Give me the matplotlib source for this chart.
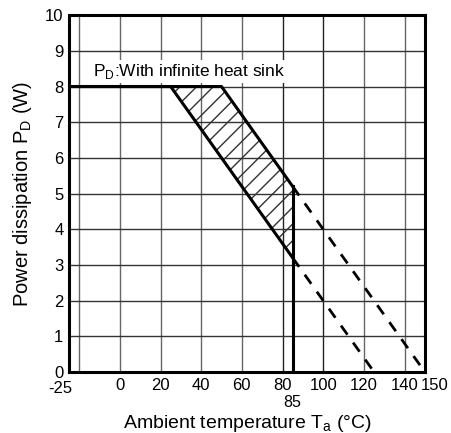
import numpy as np
import matplotlib
matplotlib.use("Agg")
import matplotlib.pyplot as plt
import matplotlib.transforms as mtransforms

plt.rcParams['font.family'] = ['Liberation Sans', 'DejaVu Sans']
plt.rcParams['axes.unicode_minus'] = False

# derating curves (Ta in degC, PD in W)
upper_ta = [-25, 50, 85]
upper_pd = [8, 8, 5.2]
lower_ta = [-25, 25, 85]
lower_pd = [8, 8, 3.2]
upper_ext_ta = [85, 150]
upper_ext_pd = [5.2, 0]
lower_ext_ta = [85, 125]
lower_ext_pd = [3.2, 0]
ta_max = 85

xticks = [-25, 0, 20, 40, 60, 80, 100, 120, 140, 150]
xgrid = [-20, 0, 20, 40, 60, 80, 100, 120, 140]
yticks = list(range(0, 11))

fig = plt.figure(figsize=(4.51, 4.33), dpi=100)
ax = fig.add_axes([0.153, 0.141, 0.789, 0.824])

for g in xgrid:
    c = '#222222' if g in (80, 100) else '#666666'
    ax.axvline(g, color=c, lw=1.0, zorder=1)
for g in yticks[1:-1]:
    ax.axhline(g, color='#333333', lw=1.0, zorder=1)

# hatched area between the two curves
hx = np.array([25, 50, 85])
top = np.interp(hx, upper_ta, upper_pd)
bot = np.interp(hx, lower_ta, lower_pd)
ax.fill_between(hx, bot, top, facecolor='none', edgecolor='#333333',
                hatch='//', linewidth=0, zorder=2)

ax.plot(upper_ta, upper_pd, color='black', lw=2.2, zorder=3)
ax.plot(lower_ta, lower_pd, color='black', lw=2.2, zorder=3)
ax.plot(upper_ext_ta, upper_ext_pd, color='black', lw=2.0, ls=(0, (4, 3.5)), zorder=3)
ax.plot(lower_ext_ta, lower_ext_pd, color='black', lw=2.0, ls=(0, (4, 3.5)), zorder=3)
ax.plot([ta_max, ta_max], [0, upper_pd[-1]], color='black', lw=2.2, zorder=3)

ax.text(-13, 8.43, 'P$_\\mathregular{D}$:With infinite heat sink', fontsize=12.5,
        va='center', ha='left', zorder=4,
        bbox=dict(facecolor='white', edgecolor='none', pad=1.5))

ax.set_xlim(-25, 150)
ax.set_ylim(0, 10)
ax.set_xticks(xticks)
ax.set_yticks(yticks)
ax.tick_params(axis='y', length=0, labelsize=12, pad=4)
ax.tick_params(axis='x', length=0, labelsize=12, pad=4)
labels = ax.get_xticklabels()
labels[0].set_transform(labels[0].get_transform() +
                        mtransforms.ScaledTranslation(-0.09, -0.03, fig.dpi_scale_trans))
labels[-1].set_transform(labels[-1].get_transform() +
                         mtransforms.ScaledTranslation(0.10, 0, fig.dpi_scale_trans))
ax.text(ta_max, -0.85, '85', ha='center', va='center', fontsize=11.5)
ax.set_xlabel('Ambient temperature T$_\\mathregular{a}$ (°C)', fontsize=14)
ax.xaxis.label.set_va('baseline')
ax.xaxis.set_label_coords(0.5, -0.157)
ax.set_ylabel('Power dissipation P$_\\mathregular{D}$ (W)', fontsize=14.5, labelpad=8)
for s in ax.spines.values():
    s.set_linewidth(2.2)

fig.savefig('out.png', dpi=100)
